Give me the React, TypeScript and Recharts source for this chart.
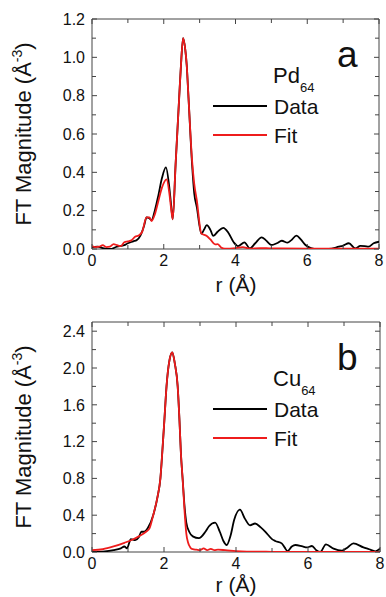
import React from 'react';
import { LineChart, Line, XAxis, YAxis, ReferenceArea } from 'recharts';

// r grid (Å) and |FT| values
const pdDataR = [0, 0.15, 0.3, 0.5, 0.7, 0.9, 1.0, 1.15, 1.25, 1.35, 1.45, 1.52, 1.6, 1.66, 1.75, 1.85, 1.95, 2.06, 2.15, 2.2, 2.25, 2.33, 2.43, 2.48, 2.54, 2.6, 2.64, 2.69, 2.79, 2.85, 2.92, 3.05, 3.12, 3.2, 3.3, 3.38, 3.5, 3.66, 3.8, 3.95, 4.07, 4.25, 4.4, 4.55, 4.73, 4.85, 5.0, 5.15, 5.29, 5.45, 5.55, 5.7, 5.82, 5.95, 6.1, 6.2, 6.4, 6.6, 6.88, 7.0, 7.16, 7.34, 7.48, 7.6, 7.71, 7.85, 8.0];
const pdDataV = [0.01, 0.012, 0.005, 0.0, 0.012, 0.02, 0.03, 0.04, 0.047, 0.07, 0.12, 0.165, 0.16, 0.15, 0.2, 0.28, 0.37, 0.426, 0.33, 0.24, 0.155, 0.44, 0.79, 0.96, 1.1, 1.04, 0.96, 0.79, 0.44, 0.29, 0.22, 0.08, 0.1, 0.125, 0.1, 0.068, 0.09, 0.11, 0.085, 0.035, 0.015, 0.035, 0.003, 0.03, 0.061, 0.045, 0.021, 0.03, 0.043, 0.033, 0.045, 0.07, 0.05, 0.021, 0.005, 0.0, 0.0, 0.0, 0.012, 0.018, 0.03, 0.003, 0.016, 0.015, 0.012, 0.03, 0.038];

const pdFitR = [0, 0.1, 0.2, 0.3, 0.4, 0.5, 0.6, 0.7, 0.8, 0.9, 1.0, 1.1, 1.2, 1.3, 1.4, 1.52, 1.6, 1.66, 1.75, 1.85, 1.95, 2.08, 2.15, 2.2, 2.25, 2.33, 2.43, 2.48, 2.54, 2.6, 2.64, 2.69, 2.79, 2.85, 2.92, 3.05, 3.2, 3.3, 3.43, 3.5, 3.6, 3.7, 4.0, 4.2, 4.4, 4.7, 5.0, 6.0, 7.0, 8.0];
const pdFitV = [0.015, 0.01, 0.012, 0.02, 0.01, 0.012, 0.025, 0.02, 0.015, 0.035, 0.04, 0.045, 0.064, 0.07, 0.09, 0.165, 0.165, 0.146, 0.18, 0.25, 0.32, 0.363, 0.3, 0.22, 0.155, 0.44, 0.79, 0.96, 1.1, 1.04, 0.96, 0.79, 0.46, 0.34, 0.256, 0.08, 0.068, 0.05, 0.024, 0.025, 0.008, 0.002, 0.005, 0.01, 0.002, 0.005, 0.003, 0.002, 0.002, 0.002];

const cuDataR = [0, 0.3, 0.6, 0.8, 0.9, 0.97, 1.08, 1.2, 1.3, 1.37, 1.45, 1.55, 1.7, 1.82, 1.9, 1.95, 2.01, 2.07, 2.15, 2.23, 2.3, 2.38, 2.43, 2.47, 2.52, 2.57, 2.62, 2.7, 2.8, 2.97, 3.15, 3.25, 3.42, 3.55, 3.65, 3.74, 3.85, 3.95, 4.11, 4.25, 4.39, 4.53, 4.68, 4.86, 5.0, 5.09, 5.27, 5.35, 5.43, 5.55, 5.65, 5.85, 5.97, 6.11, 6.23, 6.34, 6.5, 6.71, 6.94, 7.1, 7.26, 7.54, 7.7, 7.87, 8.0];
const cuDataV = [0.0, 0.005, 0.02, 0.04, 0.06, 0.04, 0.14, 0.13, 0.16, 0.22, 0.22, 0.26, 0.4, 0.6, 0.8, 1.07, 1.43, 1.8, 2.08, 2.17, 2.05, 1.8, 1.43, 1.07, 0.78, 0.5, 0.32, 0.22, 0.17, 0.15, 0.22, 0.28, 0.32, 0.22, 0.12, 0.076, 0.18, 0.35, 0.46, 0.36, 0.29, 0.31, 0.27, 0.2, 0.14, 0.12, 0.094, 0.05, 0.01, 0.06, 0.076, 0.06, 0.05, 0.065, 0.02, 0.0, 0.083, 0.036, 0.015, 0.05, 0.094, 0.05, 0.03, 0.007, 0.036];

const cuFitR = [0, 0.3, 0.6, 0.9, 1.1, 1.3, 1.5, 1.6, 1.7, 1.82, 1.9, 1.95, 2.01, 2.07, 2.15, 2.23, 2.3, 2.38, 2.43, 2.47, 2.52, 2.57, 2.62, 2.67, 2.73, 2.8, 2.9, 3.0, 3.1, 3.2, 3.3, 3.4, 3.5, 3.7, 4.0, 4.3, 5.0, 6.0, 7.0, 8.0];
const cuFitV = [0.02, 0.03, 0.06, 0.1, 0.13, 0.17, 0.22, 0.26, 0.4, 0.6, 0.8, 1.07, 1.43, 1.8, 2.08, 2.17, 2.05, 1.8, 1.43, 1.07, 0.78, 0.45, 0.2, 0.1, 0.05, 0.03, 0.025, 0.02, 0.04, 0.02, 0.035, 0.02, 0.025, 0.02, 0.01, 0.005, 0.002, 0.0, 0.0, 0.0];

const xTicks = [0, 1, 2, 3, 4, 5, 6, 7, 8];
const pdYTicks = [0, 0.1, 0.2, 0.3, 0.4, 0.5, 0.6, 0.7, 0.8, 0.9, 1.0, 1.1, 1.2];
const cuYTicks = [0, 0.2, 0.4, 0.6, 0.8, 1.0, 1.2, 1.4, 1.6, 1.8, 2.0, 2.2, 2.4];

const FONT = '"Liberation Sans", Arial, sans-serif';
const FRAME = '#444';
const INK = '#111';

const toPoints = (rs: number[], vs: number[]) => rs.map((r, i) => ({ r, v: vs[i] }));

const XTick = (props: any) => {
  const { x, y, payload, top } = props;
  const major = Math.round(payload.value) % 2 === 0;
  const len = major ? 5 : 4;
  return (
    <g>
      <line x1={x} x2={x} y1={y} y2={y - len} stroke={FRAME} />
      <line x1={x} x2={x} y1={top} y2={top + len} stroke={FRAME} />
      {major && (
        <text x={x} y={y + 17} textAnchor="middle" fontSize={16} fill={INK} fontFamily={FONT}>
          {payload.value}
        </text>
      )}
    </g>
  );
};

const YTick = (props: any) => {
  const { x, y, payload, right, every } = props;
  const major = Math.round(payload.value * 10) % every === 0;
  const len = major ? 5 : 4;
  return (
    <g>
      <line x1={x} x2={x + len} y1={y} y2={y} stroke={FRAME} />
      <line x1={right} x2={right - len} y1={y} y2={y} stroke={FRAME} />
      {major && (
        <text x={x - 7} y={y} dy="0.36em" textAnchor="end" fontSize={16} fill={INK} fontFamily={FONT}>
          {payload.value.toFixed(1)}
        </text>
      )}
    </g>
  );
};

function Overlay({ letter, metal, yMid, xBase, top }: any) {
  return (
    <svg width={386} height={300} style={{ position: 'absolute', left: 0, top: 0, pointerEvents: 'none' }}>
      <g fontFamily={FONT} fill={INK}>
        <text transform={`translate(31, ${yMid}) rotate(-90)`} textAnchor="middle" fontSize={22}>
          FT Magnitude (Å<tspan dy={-9} fontSize={14}>-3</tspan><tspan dy={9}>)</tspan>
        </text>
        <text x={236} y={xBase} textAnchor="middle" fontSize={21}>r (Å)</text>
        <text x={337} y={top + 48} fontSize={37}>{letter}</text>
        <text x={273} y={top + 64} fontSize={22}>
          {metal}<tspan dy={9} fontSize={13}>64</tspan>
        </text>
        <line x1={213} x2={267} y1={top + 87} y2={top + 87} stroke="#000" strokeWidth={2} />
        <text x={274} y={top + 95} fontSize={21}>Data</text>
        <line x1={213} x2={267} y1={top + 116} y2={top + 116} stroke="#ee1c1c" strokeWidth={2} />
        <text x={274} y={top + 124} fontSize={21}>Fit</text>
      </g>
    </svg>
  );
}

function Panel({ data, fit, yMax, yTicks, every, top, right, height, bottomH, letter, metal, xBase }: any) {
  const plotMid = (top + height - bottomH) / 2;
  return (
    <div style={{ position: 'relative', width: 386, height }}>
      <LineChart width={386} height={height} margin={{ top, right: 386 - right, bottom: 0, left: 0 }}>
        <XAxis
          type="number"
          dataKey="r"
          domain={[0, 8]}
          ticks={xTicks}
          interval={0}
          tickSize={0}
          tickMargin={0}
          axisLine={false}
          tickLine={false}
          height={bottomH}
          allowDataOverflow
          tick={(p: any) => <XTick {...p} top={top} />}
        />
        <YAxis
          type="number"
          domain={[0, yMax]}
          ticks={yTicks}
          interval={0}
          tickSize={0}
          tickMargin={0}
          axisLine={false}
          tickLine={false}
          width={92}
          allowDataOverflow
          tick={(p: any) => <YTick {...p} right={right} every={every} />}
        />
        <ReferenceArea x1={0} x2={8} y1={0} y2={yMax} fill="none" stroke={FRAME} strokeWidth={1} />
        <Line data={data} dataKey="v" type="monotone" stroke="#000" strokeWidth={1.8} dot={false} isAnimationActive={false} />
        <Line data={fit} dataKey="v" type="monotone" stroke="#ee1c1c" strokeWidth={1.8} dot={false} isAnimationActive={false} />
      </LineChart>
      <Overlay letter={letter} metal={metal} yMid={plotMid} xBase={xBase} top={top} />
    </div>
  );
}

export default function App() {
  return (
    <div style={{ position: 'absolute', left: 0, top: 0, width: 386, height: 597, background: '#fff', fontFamily: FONT }}>
      <Panel
        data={toPoints(pdDataR, pdDataV)}
        fit={toPoints(pdFitR, pdFitV)}
        yMax={1.2}
        yTicks={pdYTicks}
        every={2}
        top={19}
        right={379}
        height={300}
        bottomH={51}
        letter="a"
        metal="Pd"
        xBase={292}
      />
      <Panel
        data={toPoints(cuDataR, cuDataV)}
        fit={toPoints(cuFitR, cuFitV)}
        yMax={2.5}
        yTicks={cuYTicks}
        every={4}
        top={22}
        right={380}
        height={297}
        bottomH={45}
        letter="b"
        metal="Cu"
        xBase={292}
      />
    </div>
  );
}
